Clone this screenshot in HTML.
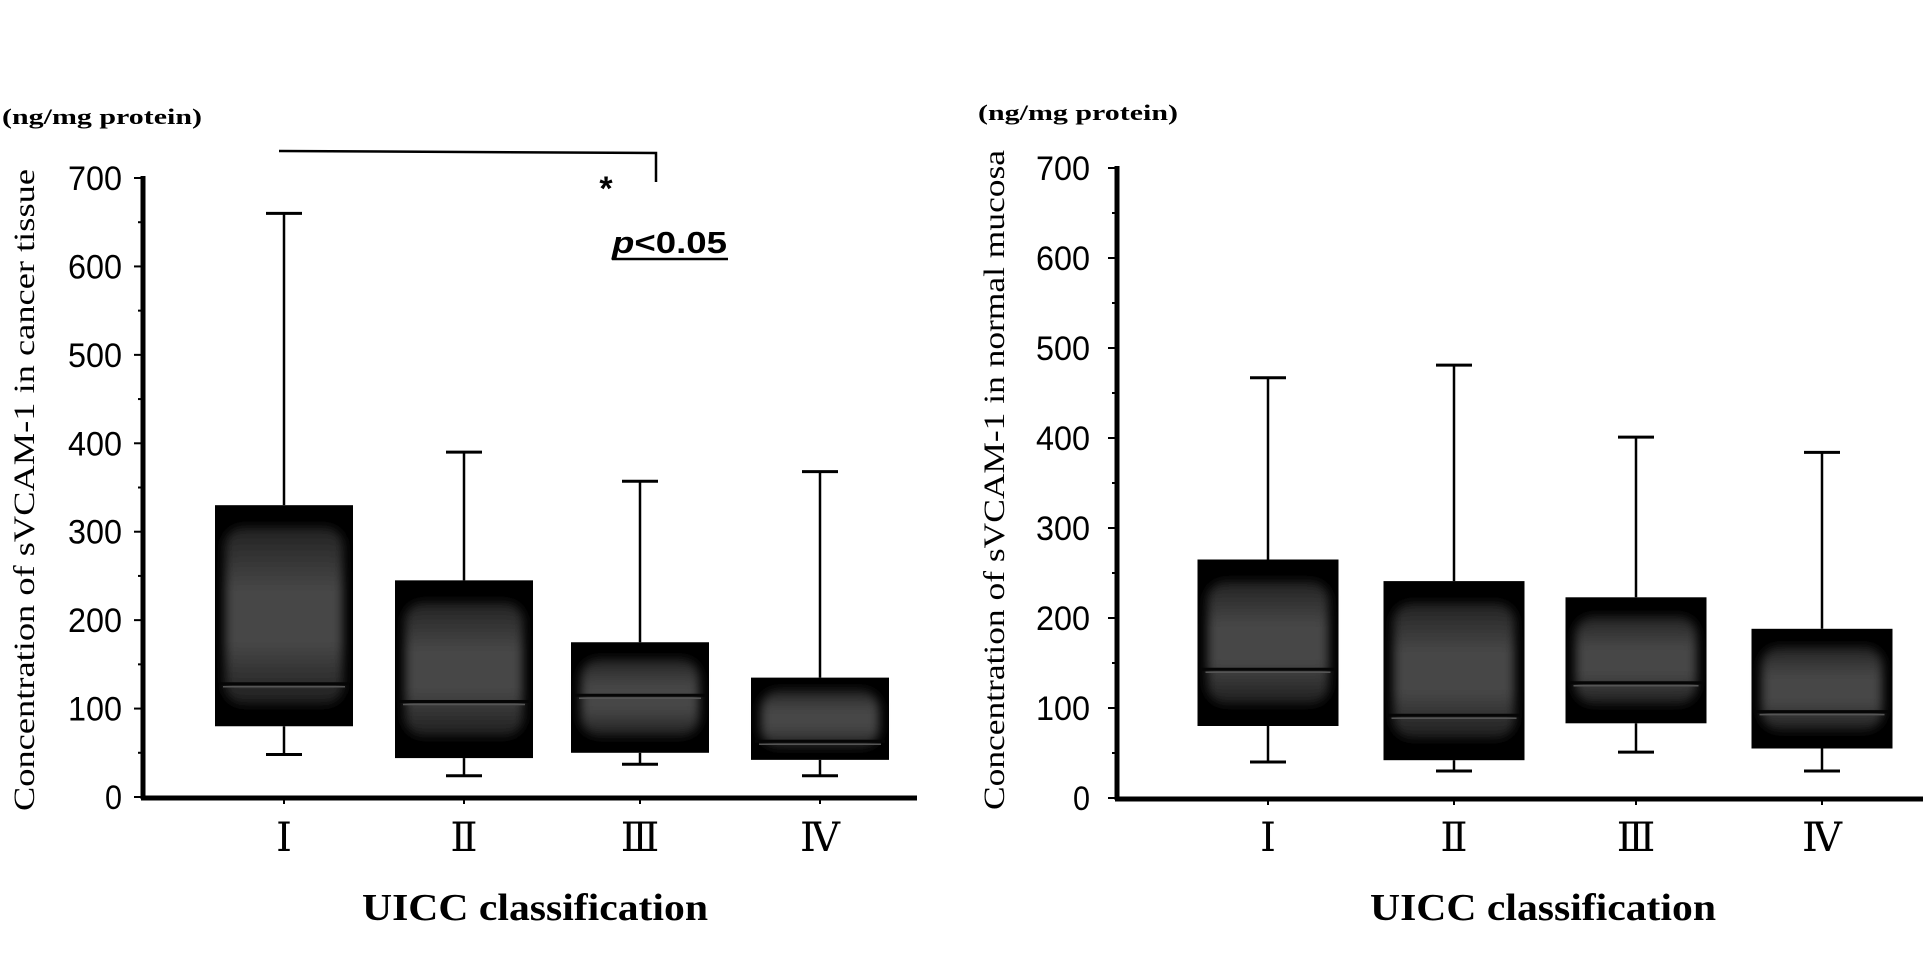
<!DOCTYPE html>
<html><head><meta charset="utf-8"><style>
html,body{margin:0;padding:0;background:#fff;}
svg{display:block;}
text{fill:#000;}
.tick{font-family:"Liberation Sans Narrow","Liberation Sans",sans-serif;font-size:34px;}
.serif{font-family:"Liberation Serif",serif;}
.roman{font-family:"DejaVu Serif","Liberation Serif",serif;}
</style></head><body>
<svg id="chart" width="1923" height="972" viewBox="0 0 1923 972" xmlns="http://www.w3.org/2000/svg">
<defs>
<linearGradient id="g" x1="0" y1="0" x2="0" y2="1">
<stop offset="0" stop-color="#222"/><stop offset="0.35" stop-color="#464646"/><stop offset="0.65" stop-color="#474747"/><stop offset="1" stop-color="#1e1e1e"/>
</linearGradient>
<filter id="bl" x="-10%" y="-10%" width="120%" height="120%"><feGaussianBlur stdDeviation="5"/></filter>
</defs>
</svg>
<script>
const categories = ["Ⅰ","Ⅱ","Ⅲ","Ⅳ"];
const yTicks = [0,100,200,300,400,500,600,700];
const cancerHigh = [660,390,357,368];
const cancerQ3 = [330,245,175,135];
const cancerMedian = [128,108,115,63];
const cancerQ1 = [80,44,50,42];
const cancerLow = [48,24,37,24];
const normalHigh = [467,481,401,384];
const normalQ3 = [265,241,223,188];
const normalMedian = [143,92,128,96];
const normalQ1 = [80,42,83,55];
const normalLow = [40,30,51,30];

const NS = "http://www.w3.org/2000/svg";
const svg = document.getElementById('chart');
function mk(tag, attrs, parent, txt){
  const e = document.createElementNS(NS, tag);
  for (const k in attrs) e.setAttribute(k, attrs[k]);
  if (txt !== undefined) e.textContent = txt;
  (parent||svg).appendChild(e);
  return e;
}

function panel(cfg){
  const g = mk('g', {});
  
  
  const y = v => cfg.y0 - (v/700)*(cfg.y0 - cfg.y700);
  const x = i => cfg.centers[i];
  const ya = mk('line',{x1:cfg.ax,y1:cfg.y700-2,x2:cfg.ax,y2:cfg.y0+2,stroke:'#000','stroke-width':5},g);
  
  
  for (let v=0; v<=700; v+=50){
    const maj = v%100===0;
    const t = mk('line',{x1:cfg.ax-(maj?9:5),y1:y(v),x2:cfg.ax,y2:y(v),stroke:'#000','stroke-width':2},g);
    
    
  }
  yTicks.forEach(v=>{
    const t = mk('text',{x:cfg.labelX,y:y(v)+12,'text-anchor':'end',class:'tick',textLength:v===0?17:54,lengthAdjust:'spacingAndGlyphs'},g,String(v));
    
    
  });
  const xa = mk('line',{x1:cfg.ax-2,y1:cfg.y0+1,x2:cfg.xEnd,y2:cfg.y0+1,stroke:'#000','stroke-width':5},g);
  
  
  categories.forEach((c,i)=>{
    const cx = x(i), w = cfg.boxW, half = w/2, cap = 18;
    const bg = mk('g',{},g);
    
    
    mk('line',{x1:cx,y1:y(cfg.high[i]),x2:cx,y2:y(cfg.q3[i]),stroke:'#000','stroke-width':2.5},bg);
    mk('line',{x1:cx-cap,y1:y(cfg.high[i]),x2:cx+cap,y2:y(cfg.high[i]),stroke:'#000','stroke-width':3},bg);
    mk('line',{x1:cx,y1:y(cfg.q1[i]),x2:cx,y2:y(cfg.low[i]),stroke:'#000','stroke-width':2.5},bg);
    mk('line',{x1:cx-cap,y1:y(cfg.low[i]),x2:cx+cap,y2:y(cfg.low[i]),stroke:'#000','stroke-width':3},bg);
    const top = y(cfg.q3[i]), bot = y(cfg.q1[i]);
    mk('rect',{x:cx-half,y:top,width:w,height:bot-top,fill:'#000'},bg);
    const ins = Math.min(22,(bot-top)*0.15);
    mk('rect',{x:cx-half+10,y:top+ins,width:w-20,height:Math.max(0,bot-top-2*ins),rx:18,fill:'url(#g)',filter:'url(#bl)'},bg);
    mk('line',{x1:cx-half+4,y1:y(cfg.med[i]),x2:cx+half-4,y2:y(cfg.med[i]),stroke:'#050505','stroke-width':3},bg);
    mk('line',{x1:cx-half+8,y1:y(cfg.med[i])+3,x2:cx+half-8,y2:y(cfg.med[i])+3,stroke:'#555','stroke-width':1.5},bg);
    const xt = mk('line',{x1:cx,y1:cfg.y0+3,x2:cx,y2:cfg.y0+7,stroke:'#000','stroke-width':2},g);
    
    
    const lab = mk('text',{x:cx,y:851,'text-anchor':'middle',class:'roman','font-size':40},g,c);
    
    
  });
  const xt = mk('text',{x:cfg.titleX,y:920,'text-anchor':'middle',class:'serif','font-size':38,'font-weight':'bold',textLength:346,lengthAdjust:'spacingAndGlyphs'},g,'UICC classification');
  
  
  const unit = mk('text',{x:cfg.unitX,y:cfg.unitY,class:'serif','font-size':22,'font-weight':'bold',textLength:200,lengthAdjust:'spacingAndGlyphs'},g,'(ng/mg  protein)');
  
  
  const yt = mk('text',{x:0,y:0,'text-anchor':'middle',class:'serif','font-size':30,textLength:cfg.ytLen,lengthAdjust:'spacingAndGlyphs',transform:`translate(${cfg.ytX},${cfg.ytY}) rotate(-90)`},g,cfg.yTitle);
  
  
  return g;
}

panel({name:'cancer-tissue-panel',ax:143,y0:797,y700:178,xEnd:917,labelX:122,
  centers:[284,464,640,820],boxW:138,
  high:cancerHigh,q3:cancerQ3,med:cancerMedian,q1:cancerQ1,low:cancerLow,
  titleX:535,unitX:2,unitY:124,ytX:34,ytY:490,ytLen:642,
  yTitle:'Concentration of sVCAM-1 in cancer tissue'});
panel({name:'normal-mucosa-panel',ax:1117,y0:798,y700:168,xEnd:1923,labelX:1090,
  centers:[1268,1454,1636,1822],boxW:141,
  high:normalHigh,q3:normalQ3,med:normalMedian,q1:normalQ1,low:normalLow,
  titleX:1543,unitX:978,unitY:120,ytX:1004,ytY:480,ytLen:660,
  yTitle:'Concentration of sVCAM-1 in normal mucosa'});

const br = mk('path',{d:'M279 151 L656 153 L656 182',fill:'none',stroke:'#000','stroke-width':2.5});


const ast = mk('text',{x:606,y:200,'text-anchor':'middle','font-family':'Liberation Sans, sans-serif','font-size':34,'font-weight':'bold'},svg,'*');


const pv = mk('text',{x:612,y:253,'font-family':'Liberation Sans, sans-serif','font-size':31,'font-weight':'bold',textLength:115,lengthAdjust:'spacingAndGlyphs'});


mk('tspan',{'font-style':'italic'},pv,'p');
mk('tspan',{},pv,'<0.05');
const ul = mk('line',{x1:612,y1:259,x2:728,y2:259,stroke:'#000','stroke-width':2.5});


</script>
</body></html>
